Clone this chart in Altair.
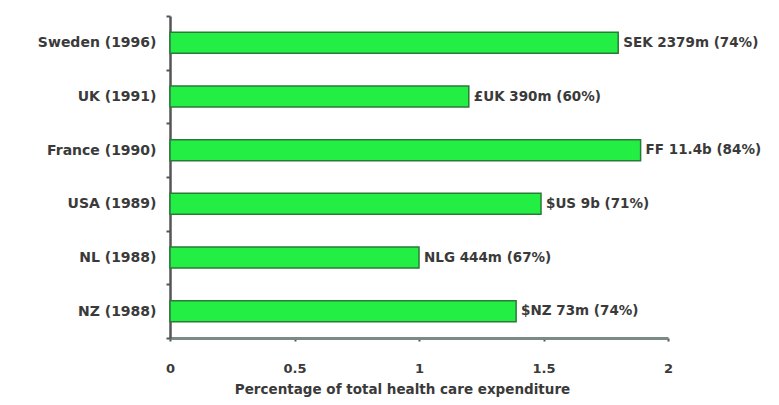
import altair as alt
import pandas as pd

countries = ["Sweden (1996)", "UK (1991)", "France (1990)", "USA (1989)", "NL (1988)", "NZ (1988)"]
values = [1.80, 1.20, 1.89, 1.49, 1.00, 1.39]
labels = ["SEK 2379m (74%)", "£UK 390m (60%)", "FF 11.4b (84%)", "$US 9b (71%)", "NLG 444m (67%)", "$NZ 73m (74%)"]
x_ticks = [0, 0.5, 1, 1.5, 2]

df = pd.DataFrame({"country": countries, "value": values, "label": labels})

FONT = "DejaVu Sans"
TXT = "#3a3a3a"

y = alt.Y("country:N", sort=countries, title=None,
          scale=alt.Scale(paddingInner=0, paddingOuter=0),
          axis=alt.Axis(labelFont=FONT, labelFontSize=14, labelFontWeight="bold",
                        labelColor=TXT, domainColor="#555555", domainWidth=2.5,
                        tickColor="#555555", tickSize=4, tickWidth=2, tickBand="extent",
                        labelPadding=10))
x = alt.X("value:Q", title="Percentage of total health care expenditure",
          scale=alt.Scale(domain=[0, 2], nice=False),
          axis=alt.Axis(values=x_ticks, labelFont=FONT, labelFontSize=13,
                        labelFontWeight="bold", labelColor=TXT,
                        titleFont=FONT, titleFontSize=13.5, titleFontWeight="bold",
                        titleColor=TXT, domainColor="#7a8a85", domainWidth=3,
                        tickColor="#555555", tickSize=3, tickWidth=2, labelPadding=21,
                        titlePadding=7, titleX=232, titleAlign="center",
                        grid=False, labelFlush=False, format="~g"))

bars = alt.Chart(df).mark_bar(size=21, color="#22ee44", stroke="#2a7a3a",
                              strokeWidth=1.5).encode(x=x, y=y)
text = alt.Chart(df).mark_text(align="left", dx=5, font=FONT, fontSize=13.5,
                               fontWeight="bold", color=TXT).encode(
    x="value:Q", y=alt.Y("country:N", sort=countries), text="label:N")

chart = (bars + text).properties(
    width=498, height=322,
    autosize=alt.AutoSizeParams(type="none"),
    padding={"left": 162, "top": 8, "right": 100, "bottom": 62},
).configure(background="white").configure_view(stroke=None)

chart.save("out.html", embed_options={"renderer": "svg", "actions": False})
